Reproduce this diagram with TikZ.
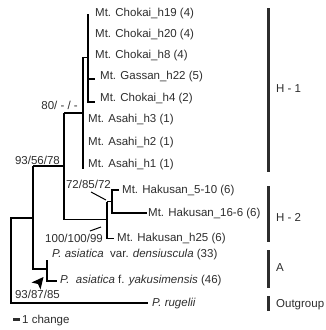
\documentclass[tikz,border=0pt]{standalone}
\usepackage{fontspec}
\setmainfont{Liberation Sans}
\definecolor{txt}{RGB}{45,45,45}
\begin{document}
\begin{tikzpicture}[x=1pt,y=-1pt,
  br/.style={line width=1.5pt,black},
  ptr/.style={line width=1pt,black},
  lab/.style={inner sep=0pt,anchor=base west,font=\fontsize{11.5}{13}\selectfont,text=txt},
  sup/.style={inner sep=0pt,anchor=base east,font=\fontsize{11.5}{13}\selectfont,text=txt},
  cladebar/.style={line width=3pt,txt}]
\useasboundingbox (0,0) rectangle (326,330);
% ---- tree coordinates
\coordinate (cT) at (88,14);
\coordinate (cB) at (88,102);
\coordinate (gas) at (95,79);
\coordinate (h4) at (95,102);
\coordinate (aT) at (83,57.5);
\coordinate (aB) at (83,169);
\coordinate (bT) at (64,113);
\coordinate (bB) at (64,219.5);
\coordinate (hC) at (107,219.5);
\coordinate (cCt) at (107,201.5);
\coordinate (cCb) at (107,238.5);
\coordinate (h25) at (114,238.5);
\coordinate (dT) at (112,190);
\coordinate (dB) at (112,213);
\coordinate (k510) at (119,190);
\coordinate (k166) at (147,213);
\coordinate (inT) at (33,166);
\coordinate (inB) at (33,269);
\coordinate (asN) at (47,269);
\coordinate (asT) at (47,260);
\coordinate (asB) at (47,281);
\coordinate (yak) at (57,281);
\coordinate (rootT) at (11,218);
\coordinate (rootB) at (11,303);
\coordinate (rug) at (148,303);
% ---- branches
\draw[br] (cT) -- (cB) -- (h4);
\draw[br] (gas -| cB) -- (gas);
\draw[br] (aT -| cT) -- (aT) -- (aB);
\draw[br] (bT) -- (bT -| aB);
\draw[br] (bT) -- (bB) -- (hC);
\draw[br] (cCt) -- (cCb) -- (h25);
\draw[br] (cCt) -- (cCt -| dT);
\draw[br] (k510) -- (dT) -- (dB) -- (k166);
\draw[br] (inT) -- (inT -| bT);
\draw[br] (inT) -- (inB) -- (asN);
\draw[br] (asT) -- (asB) -- (yak);
\draw[br] (rootT -| inT) -- (rootT) -- (rootB) -- (rug);
% ---- tip labels
\node[lab] (t1) at (95,16) {Mt. Chokai\_h19 (4)};
\node[lab] (t2) at (95,37) {Mt. Chokai\_h20 (4)};
\node[lab] (t3) at (95,58) {Mt. Chokai\_h8 (4)};
\node[lab] (t4) at (100,79) {Mt. Gassan\_h22 (5)};
\node[lab] (t5) at (100,101) {Mt. Chokai\_h4 (2)};
\node[lab] (t6) at (88,122) {Mt. Asahi\_h3 (1)};
\node[lab] (t7) at (88,145) {Mt. Asahi\_h2 (1)};
\node[lab] (t8) at (88,167) {Mt. Asahi\_h1 (1)};
\node[lab] (t9) at (122,193) {Mt. Hakusan\_5-10 (6)};
\node[lab] (t10) at (148,216.5) {Mt. Hakusan\_16-6 (6)};
\node[lab] (t11) at (117,241) {Mt. Hakusan\_h25 (6)};
\node[lab] (t12) at (52,257.5) {\textit{P. asiatica}\ \ var. \textit{densiuscula} (33)};
\node[lab] (t13) at (60,283) {\textit{P.\ \ asiatica} f. \textit{yakusimensis} (46)};
\node[lab] (t14) at (152,306) {\textit{P. rugelii}};
% ---- support values
\node[sup] (s1) at (78,109) {80/ - / -};
\node[sup] (s2) at (60,164) {93/56/78};
\node[sup] (s3) at (111,188.5) {72/85/72};
\node[sup] (s4) at (103,242) {100/100/99};
\node[sup] (s5) at (60,298) {93/87/85};
\coordinate (p3a) at (91,192);
\coordinate (p3b) at (106,200);
\coordinate (p4a) at (90,231);
\coordinate (p4b) at (101,227);
\draw[ptr] (p3a) -- (p3b);
\draw[ptr] (p4a) -- (p4b);
% arrowhead
\fill[black] (43.5,277) -- (31.5,282.5) -- (38,284) -- (40.5,289.5) -- cycle;
% ---- clade bars
\coordinate (b1t) at (268,8);
\coordinate (b1b) at (268,172);
\coordinate (b2t) at (268,186);
\coordinate (b2b) at (268,242);
\coordinate (b3t) at (268,250);
\coordinate (b3b) at (268,288);
\coordinate (b4t) at (268,296);
\coordinate (b4b) at (268,311);
\draw[cladebar] (b1t) -- (b1b);
\draw[cladebar] (b2t) -- (b2b);
\draw[cladebar] (b3t) -- (b3b);
\draw[cladebar] (b4t) -- (b4b);
\node[lab] (g1) at (276,92) {H - 1};
\node[lab] (g2) at (276,221) {H - 2};
\node[lab] (g3) at (276,271) {A};
\node[lab] (g4) at (276,307) {Outgroup};
% ---- scale
\coordinate (sc1) at (13,319);
\coordinate (sc2) at (20,319);
\draw[line width=3pt,txt] (sc1) -- (sc2);
\node[lab] (sct) at (22,323) {1 change};
\end{tikzpicture}
\end{document}
